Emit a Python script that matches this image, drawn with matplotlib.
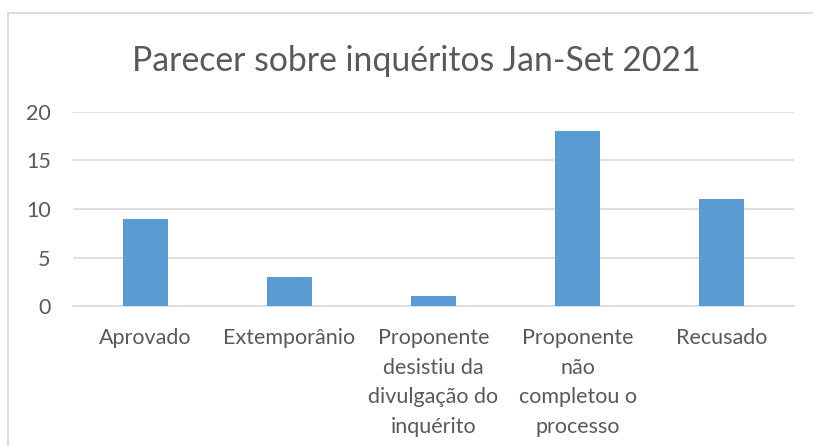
import matplotlib.pyplot as plt
from matplotlib.patches import Rectangle

categorias = ["Aprovado", "Extemporânio",
              "Proponente\ndesistiu da\ndivulgação do\ninquérito",
              "Proponente\nnão\ncompletou o\nprocesso",
              "Recusado"]
valores = [9, 3, 1, 18, 11]
y_ticks = [0, 5, 10, 15, 20]

plt.rcParams['font.family'] = ['Lato', 'DejaVu Sans']

fig = plt.figure(figsize=(8.13, 4.46), dpi=100)
ax = fig.add_axes([73/813, 1-306/446, (794-73)/813, (306-112)/446])

x = range(len(categorias))
ax.bar(x, valores, width=0.313, color="#5B9BD5", zorder=3)
ax.set_xlim(-0.5, len(categorias)-0.5)
ax.set_ylim(0, 20)
ax.set_yticks(y_ticks)
ax.set_xticks(list(x))
ax.set_xticklabels(categorias, linespacing=1.6)
ax.yaxis.grid(True, color="#D9D9D9", linewidth=1.2, zorder=0)
for s in ["top", "right", "left"]:
	ax.spines[s].set_visible(False)
ax.spines["bottom"].set_color("#D9D9D9")
ax.spines["bottom"].set_linewidth(1.2)
ax.tick_params(axis="both", length=0, labelsize=15.5, colors="#595959")
ax.tick_params(axis="x", pad=16)
ax.tick_params(axis="y", pad=16)

fig.text(416/813, 1-61/446, "Parecer sobre inquéritos Jan-Set 2021",
	ha="center", va="center", fontsize=24.3, color="#595959")

fig.patches.append(Rectangle((8/813, -0.5), 2, 1.5 - 13/446,
	transform=fig.transFigure, fill=False, edgecolor="#D9D9D9", linewidth=1.2))

fig.savefig("out.png", dpi=100)
